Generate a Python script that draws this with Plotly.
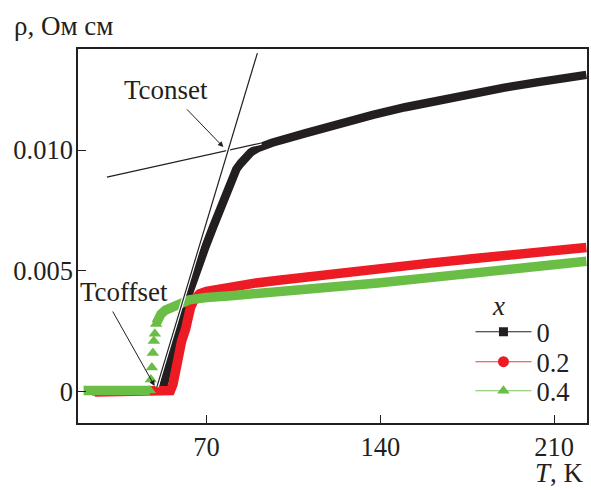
import plotly.graph_objects as go

# Resistivity rho(T) for x = 0, 0.2, 0.4
T_x0 = [24, 30, 35, 40, 45, 50, 52, 52.6, 53.6, 54.6, 56.3, 58, 60.6, 63.2, 65.6,
        69.6, 72.6, 75.8, 78.2, 80.2, 82.0, 83.8, 85.6, 87.8, 90.4, 96.4, 110, 123,
        137, 150, 163, 176, 190, 203, 223]
rho_x0 = [0.00002, 0.00002, 0.00002, 0.00002, 0.00002, 0.00002, 0.00005, 0.0002,
          0.0007, 0.0012, 0.0019, 0.0025, 0.0034, 0.0042, 0.0049, 0.0060, 0.0068,
          0.0076, 0.0083, 0.0088, 0.0092, 0.00945, 0.0097, 0.0099, 0.01007, 0.0103,
          0.0107, 0.0111, 0.01145, 0.01177, 0.01206, 0.01234, 0.01258, 0.0128,
          0.01311]

T_x02 = [25, 30, 35, 40, 45, 50, 54, 55.5, 56.5, 57.3, 58, 58.8, 60, 61.6, 62.6,
         63.6, 65, 67.2, 70, 72.4, 80, 90, 100, 120, 139, 160, 179, 200, 220, 223]
rho_x02 = [-0.00001, -0.00001, -0.00001, -0.00001, -0.00001, -0.00001, -0.00001,
           0.00005, 0.0003, 0.0008, 0.0012, 0.0016, 0.0021, 0.0026, 0.0031, 0.0035,
           0.0038, 0.00405, 0.00415, 0.0042, 0.00435, 0.0045, 0.00462, 0.00488,
           0.00511, 0.00532, 0.00552, 0.00573, 0.00594, 0.00597]

T_x04 = [20.5, 25, 30, 35, 40, 45, 47.2, 47.6, 48.0, 48.4, 48.8, 49.2, 49.7, 50.5,
         51.6, 53.5, 55.6, 58, 60.8, 63, 66, 70, 80, 90, 99, 110, 120, 139, 160,
         179, 200, 223]
rho_x04 = [0.00005, 0.00005, 0.00005, 0.00005, 0.00005, 0.00005, 0.00005, 0.0005,
           0.0010, 0.0016, 0.0021, 0.0024, 0.0028, 0.0030, 0.0032, 0.00338, 0.0035,
           0.00363, 0.0037, 0.0038, 0.00386, 0.0039, 0.00397, 0.00405, 0.00413,
           0.0042, 0.00432, 0.0045, 0.00472, 0.00494, 0.00515, 0.0054]
# sparse points of the abrupt x = 0.4 transition (shown as separate markers)
JUMP_START, JUMP_END = 7, 12

labels = ["0", "0.2", "0.4"]
colors = ["#231f20", "#ed1c24", "#6abd45"]
legend_colors = ["#231f20", "#ef3a40", "#7cc35c"]
symbols = ["square", "circle", "triangle-up"]
marker_sizes = [9, 11, 11]
band_widths = [8.5, 9.5, 9.5]

x_ticks = [70, 140, 210]
y_ticks = [0, 0.005, 0.010]
y_ticktext = ["0", "0.005", "0.010"]

# tangent construction for Tc onset
onset_line_a = ((29.9, 0.00888), (92.1, 0.01029))
onset_line_b = ((50.0, 0.00019), (90.5, 0.01401))
onset_text = (53.5, 0.01248)
onset_arrow = ((61.6, 0.01174), (76.8, 0.01012))
offset_text = (36.9, 0.00412)
offset_arrow = ((31.9, 0.00338), (49.1, 0.00024))

FONT = "Liberation Serif"
INK = "#231f20"
W, H = 591, 490
L, R, TOP, B = 78, 2, 49, 67
PW, PH = W - L - R, H - TOP - B


def px_x(p):
    return (p - L) / PW


def px_y(p):
    return (H - B - p) / PH


fig = go.Figure()

series = [(T_x0, rho_x0), (T_x02, rho_x02), (T_x04, rho_x04)]
for i, (tt, rr) in enumerate(series):
    if i == 2:
        lx = tt[:JUMP_START] + [None] + tt[JUMP_END:]
        ly = rr[:JUMP_START] + [None] + rr[JUMP_END:]
    else:
        lx, ly = tt, rr
    fig.add_trace(go.Scatter(x=lx, y=ly, mode="lines", showlegend=False,
                             line=dict(color=colors[i], width=band_widths[i]),
                             connectgaps=False, hoverinfo="skip"))
    if i == 2:
        fig.add_trace(go.Scatter(x=tt[JUMP_START - 1:JUMP_END + 1],
                                 y=rr[JUMP_START - 1:JUMP_END + 1],
                                 mode="markers", showlegend=False,
                                 marker=dict(symbol="triangle-up", size=11,
                                             color=colors[i], line=dict(width=0))))

# legend entries, one small legend per row
legend_names = ["legend", "legend2", "legend3"]
row_y = [332, 362, 391]
for i in range(3):
    fig.add_trace(go.Scatter(x=[None], y=[None], mode="lines+markers", name=labels[i],
                             legend=legend_names[i],
                             line=dict(color=legend_colors[i], width=1.2),
                             marker=dict(symbol=symbols[i], size=marker_sizes[i],
                                         color=colors[i], line=dict(width=0))))

# tangent lines (white halo + black line)
for (p0, p1) in (onset_line_a, onset_line_b):
    for w, c in ((3.5, "white"), (1.2, INK)):
        fig.add_shape(type="line", xref="x", yref="y", x0=p0[0], y0=p0[1],
                      x1=p1[0], y1=p1[1], line=dict(color=c, width=w))

for (tail, head) in (onset_arrow, offset_arrow):
    fig.add_annotation(x=head[0], y=head[1], ax=tail[0], ay=tail[1],
                       xref="x", yref="y", axref="x", ayref="y", text="",
                       showarrow=True, arrowhead=2, arrowsize=1.1, arrowwidth=1,
                       arrowcolor=INK)

fig.add_annotation(x=onset_text[0], y=onset_text[1], xref="x", yref="y",
                   text="Tconset", showarrow=False,
                   font=dict(family=FONT, size=27, color=INK))
fig.add_annotation(x=offset_text[0], y=offset_text[1], xref="x", yref="y",
                   text="Tcoffset", showarrow=False,
                   font=dict(family=FONT, size=27, color=INK))

# axis titles and legend heading
fig.add_annotation(x=px_x(12), y=px_y(26), xref="paper", yref="paper",
                   text="ρ, Ом см", showarrow=False, xanchor="left",
                   yanchor="middle", font=dict(family=FONT, size=27, color=INK))
fig.add_annotation(x=px_x(588), y=px_y(490), xref="paper", yref="paper",
                   text="<i>T</i>, K", showarrow=False, xanchor="right",
                   yanchor="bottom", font=dict(family=FONT, size=27, color=INK))
fig.add_annotation(x=px_x(500), y=px_y(306), xref="paper", yref="paper",
                   text="<i>x</i>", showarrow=False, xanchor="center",
                   yanchor="middle", font=dict(family=FONT, size=27, color=INK))

legend_style = dict(xanchor="left", yanchor="middle", bgcolor="rgba(0,0,0,0)",
                    borderwidth=0, itemsizing="trace", itemwidth=56,
                    font=dict(family=FONT, size=26.5, color=INK))

fig.update_layout(
    width=W, height=H,
    margin=dict(l=L, r=R, t=TOP, b=B),
    paper_bgcolor="white", plot_bgcolor="white",
    font=dict(family=FONT, size=26.5, color=INK),
    showlegend=True,
    legend=dict(x=px_x(472), y=px_y(row_y[0]), **legend_style),
    legend2=dict(x=px_x(472), y=px_y(row_y[1]), **legend_style),
    legend3=dict(x=px_x(472), y=px_y(row_y[2]), **legend_style),
    xaxis=dict(range=[18.25, 223.25], tickvals=x_ticks, ticks="inside",
               ticklen=8, tickwidth=1.2, tickcolor=INK, showline=True,
               linecolor=INK, linewidth=1.5, mirror=True, showgrid=False,
               zeroline=False, ticklabelstandoff=-1),
    yaxis=dict(range=[-0.001295, 0.014179], tickvals=y_ticks, ticktext=y_ticktext,
               ticks="inside", ticklen=8, tickwidth=1.2, tickcolor=INK,
               showline=True, linecolor=INK, linewidth=1.5, mirror=True,
               showgrid=False, zeroline=False, ticklabelstandoff=-2),
)

fig.write_html("out.html")
